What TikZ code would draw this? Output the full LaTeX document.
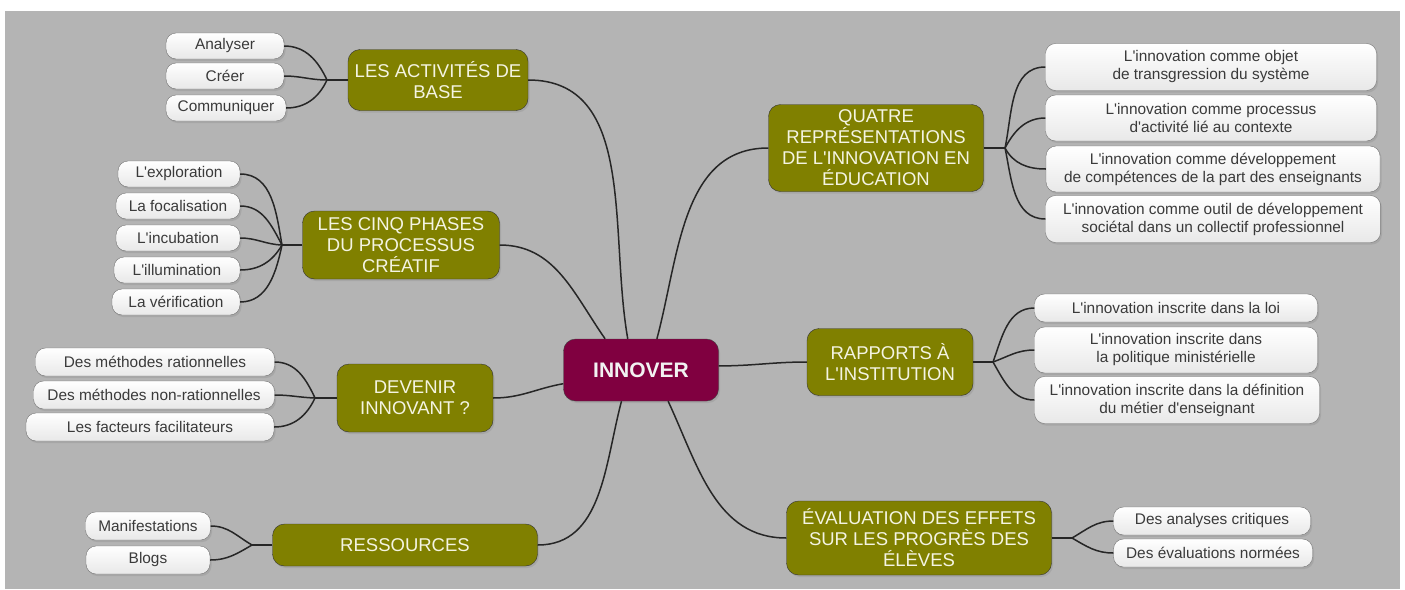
\documentclass[tikz,border=0pt]{standalone}
\usepackage{fontspec}
\setmainfont{Liberation Sans}[Ligatures=TeXOff]
\definecolor{megray}{HTML}{B4B4B4}
\definecolor{innoverred}{HTML}{800040}
\definecolor{branchgreen}{HTML}{808000}
\definecolor{branchtext}{HTML}{F4F4E2}
\definecolor{kidtext}{HTML}{3A3A3A}
\usetikzlibrary{shadows}

\tikzset{
	softshadow/.style={drop shadow={shadow xshift=1.5pt, shadow yshift=-2pt, opacity=0.25}},
	root/.style={draw=black!75, fill=innoverred, rounded corners=12pt, text=white!95!black,
		font=\fontsize{21}{24}\selectfont\bfseries, minimum width=155, minimum height=62, softshadow},
	branch/.style={draw=black!80, fill=branchgreen, rounded corners=12pt, text=branchtext,
		align=center, inner sep=1pt, font=\fontsize{18.5}{21}\selectfont, softshadow},
	kid/.style={draw=black!55, top color=white, bottom color=black!9, rounded corners=10pt, text=kidtext,
		align=center, inner sep=1pt, font=\fontsize{15.4}{18}\selectfont, softshadow},
	link/.style={black!85, line width=1.5pt},
}

\begin{document}
\begin{tikzpicture}[x=1pt, y=-1pt]
	\useasboundingbox (0,0) rectangle (1405,589);
	\fill[megray] (5,11) rectangle (1400,589);
	
	
	\node[root] (root) at (641,370) {INNOVER};
	
	\node[branch, minimum width=180, minimum height=61] (act) at (438,80) {LES ACTIVITÉS DE\\BASE};
	\node[branch, minimum width=197, minimum height=68] (cinq) at (401,245) {LES CINQ PHASES\\DU PROCESSUS\\CRÉATIF};
	\node[branch, minimum width=156, minimum height=68] (dev) at (415,398) {DEVENIR\\INNOVANT ?};
	\node[branch, minimum width=265, minimum height=42] (res) at (405,545) {RESSOURCES};
	\node[branch, minimum width=215, minimum height=87] (quatre) at (876,148) {QUATRE\\REPRÉSENTATIONS\\DE L'INNOVATION EN\\ÉDUCATION};
	\node[branch, minimum width=166, minimum height=67] (rap) at (890,362) {RAPPORTS À\\L'INSTITUTION};
	\node[branch, minimum width=265, minimum height=74] (eval) at (919,538) {ÉVALUATION DES EFFETS\\SUR LES PROGRÈS DES\\ÉLÈVES};
	
	
	\draw[link] (root.113) to[out=100, in=0] (act.east);
	\draw[link] (root.139) to[out=125, in=0] (cinq.east);
	\draw[link] (root.190) to[out=190, in=0] (dev.east);
	\draw[link] (root.238) to[out=255, in=0] (res.east);
	\draw[link] (root.63) to[out=75, in=180] (quatre.west);
	\draw[link] (root.3) to[out=0, in=180] (rap.west);
	\draw[link] (root.311) to[out=295, in=180] (eval.west);
	
	
	\node[kid, minimum width=118, minimum height=26] (an) at (225,46) {Analyser};
	\node[kid, minimum width=118, minimum height=26] (cr) at (225,76) {Créer};
	\node[kid, minimum width=120, minimum height=26] (co) at (226,108) {Communiquer};
	\coordinate (j1) at (327,80);
	\draw[link] (act.west) -- (j1);
	\foreach \k/\a in {an/115, cr/180, co/245}
		\draw[link] (j1) to[out=\a, in=0] (\k.east);
	
	\node[kid, minimum width=122, minimum height=26] (ex) at (179,174) {L'exploration};
	\node[kid, minimum width=124, minimum height=26] (fo) at (178,206) {La focalisation};
	\node[kid, minimum width=124, minimum height=26] (inc) at (178,238) {L'incubation};
	\node[kid, minimum width=126, minimum height=26] (ill) at (177,270) {L'illumination};
	\node[kid, minimum width=128, minimum height=26] (ver) at (176,302) {La vérification};
	\coordinate (j2) at (282,245);
	\draw[link] (cinq.west) -- (j2);
	\foreach \k/\a in {ex/100, fo/118, inc/178, ill/240, ver/258}
		\draw[link] (j2) to[out=\a, in=0] (\k.east);
	
	\node[kid, minimum width=239, minimum height=28] (mr) at (155,362) {Des méthodes rationnelles};
	\node[kid, minimum width=241, minimum height=28] (mn) at (154,395) {Des méthodes non-rationnelles};
	\node[kid, minimum width=248, minimum height=28] (ff) at (150,427) {Les facteurs facilitateurs};
	\coordinate (j3) at (315,398);
	\draw[link] (dev.west) -- (j3);
	\foreach \k/\a in {mr/115, mn/178, ff/245}
		\draw[link] (j3) to[out=\a, in=0] (\k.east);
	
	\node[kid, minimum width=125, minimum height=28] (ma) at (148,526) {Manifestations};
	\node[kid, minimum width=124, minimum height=28] (bl) at (148,560) {Blogs};
	\coordinate (j4) at (252,545);
	\draw[link] (res.west) -- (j4);
	\foreach \k/\a in {ma/150, bl/210}
		\draw[link] (j4) to[out=\a, in=0] (\k.east);
	
	
	\node[kid, minimum width=331, minimum height=47] (q1) at (1211,67) {L'innovation comme objet\\de transgression du système};
	\node[kid, minimum width=331, minimum height=46] (q2) at (1211,118) {L'innovation comme processus\\d'activité lié au contexte};
	\node[kid, minimum width=334, minimum height=46] (q3) at (1213,169) {L'innovation comme développement\\de compétences de la part des enseignants};
	\node[kid, minimum width=335, minimum height=47] (q4) at (1213,219) {L'innovation comme outil de développement\\sociétal dans un collectif professionnel};
	\coordinate (j5) at (1005,148);
	\draw[link] (quatre.east) -- (j5);
	\foreach \k/\a in {q1/78, q2/62, q3/298, q4/282}
		\draw[link] (j5) to[out=\a, in=180] (\k.west);
	
	\node[kid, minimum width=283, minimum height=28] (r1) at (1176,308) {L'innovation inscrite dans la loi};
	\node[kid, minimum width=283, minimum height=46] (r2) at (1176,350) {L'innovation inscrite dans\\la politique ministérielle};
	\node[kid, minimum width=285, minimum height=47] (r3) at (1177,400) {L'innovation inscrite dans la définition\\du métier d'enseignant};
	\coordinate (j6) at (993,362);
	\draw[link] (rap.east) -- (j6);
	\foreach \k/\a in {r1/70, r2/20, r3/300}
		\draw[link] (j6) to[out=\a, in=180] (\k.west);
	
	\node[kid, minimum width=197, minimum height=28] (e1) at (1212,521) {Des analyses critiques};
	\node[kid, minimum width=199, minimum height=28] (e2) at (1213,553) {Des évaluations normées};
	\coordinate (j7) at (1072,538);
	\draw[link] (eval.east) -- (j7);
	\foreach \k/\a in {e1/30, e2/330}
		\draw[link] (j7) to[out=\a, in=180] (\k.west);
	
\end{tikzpicture}
\end{document}
